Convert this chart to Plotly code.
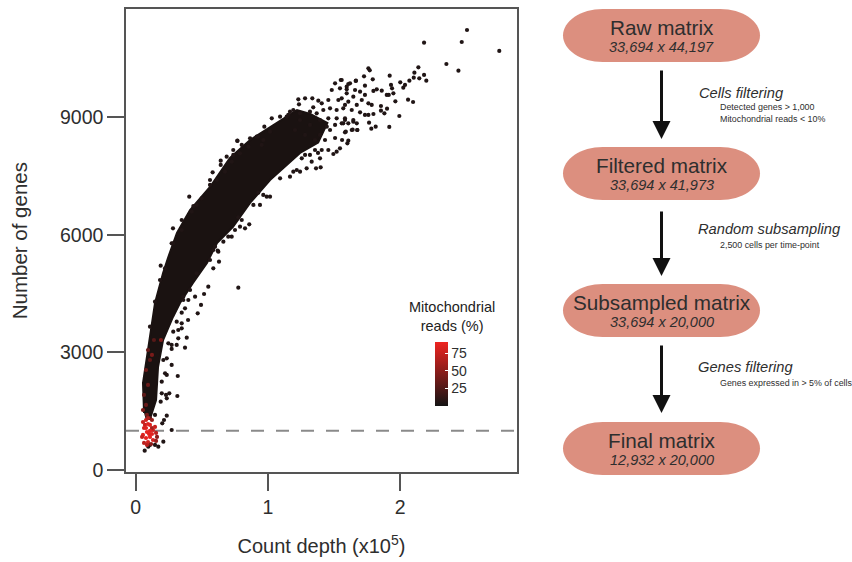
import plotly.graph_objects as go

W, H = 852, 562
AXIS_GREY = "#555555"
TEXT = "#2e2e2e"
PILL = "#dc8f7f"

# Outline of the solid core of the point cloud (count depth x1e5, genes)
core_upper = [(.063,1454),(.055,2218),(.085,2882),(.146,4258),(.207,5024),(.244,5406),(.312,6044),
              (.411,6630),(.562,7217),(.713,7956),(.865,8415),(1.016,8747),(1.220,9180),(1.32,9080),(1.45,8850)]
core_lower = [(1.38,8350),(1.243,8084),(1.016,7395),(.865,6809),(.736,6197),(.615,5789),(.539,5279),(.433,4769),
              (.335,4259),(.282,3902),(.207,3315),(.169,2627),(.154,1785),(.108,1300),(.075,1300)]

# Separately visible cells
far_cells = [(2.506,11220),(2.181,10896),(2.466,10914),(2.750,10685),(2.350,10353),(2.441,10182),(2.138,10269),
             (1.760,10243),(1.770,10192),(1.727,10039),(1.921,10055),(1.793,9963),(2.108,10131),(2.181,10073),
             (2.103,10004),(2.145,9988),(2.070,9927),(2.198,9927),(2.001,9886),(2.037,9818),(2.024,9749),
             (1.931,9818),(1.939,9733),(1.949,9606),(1.664,9920),(1.734,9800),(1.861,9672),(1.823,9708),
             (1.798,9665),(1.899,9563),(1.914,9563),(2.060,9443),(2.098,9384),(1.964,9402),(1.994,9027),
             (1.901,9213),(1.855,9282),(1.855,9162),(1.881,9096),(1.798,9078),(1.765,8856),(1.815,8754),
             (1.782,8703),(1.918,8747),(1.676,8670),(1.641,8678),(1.583,8611)]
tail_cells = [(1.596,9774),(1.558,9945),(1.621,9861),(1.659,9690),(1.697,9647),(1.734,9563),(1.596,9606),
              (1.646,9519),(1.710,9435),(1.760,9351),(1.558,9478),(1.608,9392),(1.672,9308),(1.785,9308),
              (1.570,9223),(1.634,9180),(1.697,9121),(1.760,9053),(1.734,9053),(1.583,8925),(1.646,8882),
              (1.558,8841),(1.608,8841),(1.672,8841),(1.508,9861),(1.551,9945),(1.608,9843),(1.666,9927),
              (1.483,9690),(1.545,9733),(1.596,9708),(1.230,9453),(1.281,9478),(1.336,9478),(1.381,9417),
              (1.235,9325),(1.343,9249),(1.407,9351),(1.457,9435),(1.533,9435),(1.419,9180),(1.470,9223),
              (1.520,9180),(1.583,9308),(1.318,9137),(1.369,9096),(1.192,9180),(1.154,9053),(1.029,8968),
              (.973,8754),(1.092,9009),(.769,8390),(.802,8288),(.738,8160),(.953,8288),(1.394,8925),
              (1.457,8968),(1.520,8968),(1.583,8968),(1.646,8925),(1.445,8754),(1.508,8798),(1.570,8841),
              (1.634,8670),(1.676,8670),(1.589,8627),(1.608,8397),(1.601,8331),(1.545,8203),(1.520,8117),
              (1.457,8160),(1.407,8160),(1.356,8160),(1.495,8058),(1.394,7948),(1.331,7862),(1.364,7693),
              (1.399,7719),(1.281,8033),(1.293,7693),(1.243,7607),(1.192,7607),(1.256,7948),(1.243,8925),
              (1.318,8798),(1.394,8543),(1.470,8670),(1.281,8543),(1.356,8415),(1.432,8415),(1.508,8466),
              (1.205,8670),(1.561,8415)]
mid_cells = [(.927,7071),(.991,6969),(.940,6758),(.890,6758),(.859,6265),(.827,6163),(.802,6375),(.625,5567),
             (.587,5610),(.726,5949),(.776,6444),(.405,6969),(.348,6375),(.282,6163),(.582,7591),(.643,7887),
             (.643,7778),(.769,8397),(.688,7989),(.738,8033),(.436,6732),(.562,7395)]
low_cells = [(.189,5210),(.620,5592),(.630,5312),(.587,5143),(.549,4674),(.776,4649),(.449,4419),(.517,4488),
             (.398,4335),(.494,4208),(.360,4335),(.373,4123),(.469,3996),(.348,4011),(.396,3825),(.310,3782),
             (.348,3741),(.348,3613),(.284,3527),(.322,3570),(.386,3374),(.322,3358),(.247,3231),(.272,3188),
             (.310,3188),(.373,3119),(.272,3086),(.272,2678),(.318,2397),(.209,2805),(.235,2848),(.222,2466),
             (.235,2423),(.197,2252),(.197,1956),(.229,1913),(.254,1956),(.235,1828),(.315,1887),(.189,1742),
             (.113,1487),(.146,1403),(.235,1385),(.214,1275),(.201,1191),(.272,1020),(.209,722),(.146,638),
             (.171,594),(.108,638),(.068,492),(.095,594)]
edge_cells = [(.282,5781),(.348,6120),(.424,6587),(.461,6758),(.499,6928),(.562,7268),(.613,7395),(.675,7607),
              (.726,7862),(.789,8076),(.852,8244),(.915,8499),(.965,8415),(.865,8458),(.927,8499),(1.016,8627),
              (1.167,9137),(1.142,9009),(1.243,9096),(1.218,7650),(1.318,8033),(1.167,7480),(1.092,7438),
              (1.379,8084),(1.016,6969),(.965,7013),(.789,6204),(.751,6120),(.700,5949),(.663,5822),(.600,5694),
              (.562,5355),(.461,5016),(.411,4590),(.360,4419),(.272,5781),(.222,5143),(.184,4845),(.146,4292),
              (.108,3654)]
typical_pct = 5

# Cells with a visibly high mitochondrial share
red_depth = [.078,.108,.063,.085,.131,.154,.055,.078,.108,.131,.093,.063,.123,.161,.101,.070,.055,.085,.108,.078,
             .063,.093,.078,.108,.093,.138,.123,.191,
             .093,.123,.078,.108,.146,.055,.093,.123,.085,.116,.048,.154]
red_genes = [1275,1148,1071,969,1020,944,893,816,842,765,714,689,1071,842,918,1148,1530,1403,1326,1658,1913,2168,
             2550,2805,3060,3315,2933,3315,
             1173,918,1071,995,1097,1224,1326,1275,638,663,842,740]
red_pct = [80,85,80,88,80,70,85,88,88,80,80,70,60,50,85,75,45,40,30,35,30,35,38,30,35,28,42,45,
           85,85,85,85,75,75,65,55,70,50,75,55]

x_ticks = [0, 1, 2]
y_ticks = [0, 3000, 6000, 9000]
cbar_ticks = [25, 50, 75]
threshold_genes = 1000

pills = [("Raw matrix", "33,694 x 44,197", 9, 62),
         ("Filtered matrix", "33,694 x 41,973", 147, 200),
         ("Subsampled matrix", "33,694 x 20,000", 284, 337),
         ("Final matrix", "12,932 x 20,000", 422, 475)]
arrows = [(69, 139), (210, 276), (344, 413)]
step_titles = [("Cells filtering", 697, 93), ("Random subsampling", 696, 229), ("Genes filtering", 696, 367)]
step_notes = [("Detected genes > 1,000<br>Mitochondrial reads < 10%", 718, 113),
              ("2,500 cells per time-point", 718, 245),
              ("Genes expressed in > 5% of cells", 718, 383)]


def px(x):
    return x / W


def py(y):
    return 1 - y / H


def pill_path(x0, x1, y0, y1):
    r = (y1 - y0) / 2
    k = 0.55 * r
    a, b = px(x0), px(x0 + r * 1.5)
    c, d = px(x1 - r * 1.5), px(x1)
    t, m, u = py(y0), py((y0 + y1) / 2), py(y1)
    ka = px(x0 + r * 1.5 - k * 1.5)
    kd = px(x1 - r * 1.5 + k * 1.5)
    kt, ku = py(y0 + r - k), py(y1 - r + k)
    return (f"M {b} {t} L {c} {t} C {kd} {t} {d} {kt} {d} {m} C {d} {ku} {kd} {u} {c} {u} "
            f"L {b} {u} C {ka} {u} {a} {ku} {a} {m} C {a} {kt} {ka} {t} {b} {t} Z")


def label(text, x, y, size, anchor="center", color=TEXT):
    return dict(text=text, xref="paper", yref="paper", x=px(x), y=py(y), showarrow=False,
                xanchor=anchor, yanchor="middle", align="left" if anchor == "left" else "center",
                font=dict(size=size, color=color))


core = core_upper + core_lower
dots = far_cells + tail_cells + mid_cells + low_cells + edge_cells

fig = go.Figure()
fig.add_trace(go.Scatter(x=[p[0] for p in core], y=[p[1] for p in core], mode="lines", fill="toself",
                         fillcolor="#1a1211", line=dict(color="#1a1211", width=2), hoverinfo="skip",
                         showlegend=False))
fig.add_trace(go.Scatter(
    x=[p[0] for p in dots] + red_depth,
    y=[p[1] for p in dots] + red_genes,
    mode="markers", showlegend=False,
    marker=dict(size=4.2, line=dict(width=0),
                color=[typical_pct] * len(dots) + red_pct,
                cmin=0, cmax=91,
                colorscale=[[0, "#141414"], [1, "#ee2420"]],
                colorbar=dict(x=px(435), xref="paper", xanchor="left", y=py(406), yref="paper", yanchor="bottom",
                              len=64, lenmode="pixels", thickness=13, thicknessmode="pixels",
                              outlinewidth=0, tickvals=cbar_ticks, ticks="inside", tickcolor="white", ticklen=3,
                              tickfont=dict(size=14, color=TEXT), xpad=0, ypad=0))))

shapes = [dict(type="line", xref="paper", x0=px(126), x1=px(517), yref="y", y0=threshold_genes, y1=threshold_genes,
               line=dict(color="#8a8a8a", width=1.8, dash="13px,12px"), layer="below")]
annotations = [label("Mitochondrial<br>reads (%)", 452, 316, 14.5, color="#222222")]

for name, size, y0, y1 in pills:
    shapes.append(dict(type="path", xref="paper", yref="paper", path=pill_path(563, 760, y0, y1),
                       fillcolor=PILL, line=dict(width=0), layer="below"))
    annotations.append(label(name, 661.5, y0 + 18, 20.7))
    annotations.append(label(f"<i>{size}</i>", 661.5, y0 + 38, 14.5))
for y0, y1 in arrows:
    annotations.append(dict(text="", xref="paper", yref="paper", axref="pixel", ayref="pixel",
                            x=px(661.5), y=py(y1), ax=0, ay=y0 - y1, showarrow=True,
                            arrowhead=2, arrowsize=1.2, arrowwidth=3, arrowcolor="#111111"))
for text, x, y in step_titles:
    annotations.append(label(f"<i>{text}</i>", x, y, 14.7, anchor="left"))
for text, x, y in step_notes:
    annotations.append(label(text, x, y, 8.9, anchor="left"))

axis_common = dict(showgrid=False, zeroline=False, showline=True, mirror=True, linecolor=AXIS_GREY, linewidth=1.5,
                   ticks="outside", ticklen=17, tickwidth=2, tickcolor=AXIS_GREY,
                   tickfont=dict(size=19.5, color=TEXT))

fig.update_layout(
    width=W, height=H, autosize=False,
    margin=dict(l=0, r=0, t=0, b=0, autoexpand=False),
    paper_bgcolor="white", plot_bgcolor="white",
    font=dict(family="Liberation Sans"),
    shapes=shapes, annotations=annotations,
    xaxis=dict(domain=[px(126), px(517)], range=[-0.0734, 2.884], tickvals=x_ticks,
               title=dict(text="Count depth (x10<sup>5</sup>)", font=dict(size=20, color=TEXT), standoff=22),
               **axis_common),
    yaxis=dict(domain=[py(472.3), py(9)], range=[-59, 11755], tickvals=y_ticks,
               title=dict(text="Number of genes", font=dict(size=20.5, color=TEXT), standoff=27),
               **axis_common),
)

fig.write_html("out.html", config=dict(displayModeBar=False), default_width="852px", default_height="562px",
               post_script="document.documentElement.style.overflow='hidden';document.body.style.margin='0';")
